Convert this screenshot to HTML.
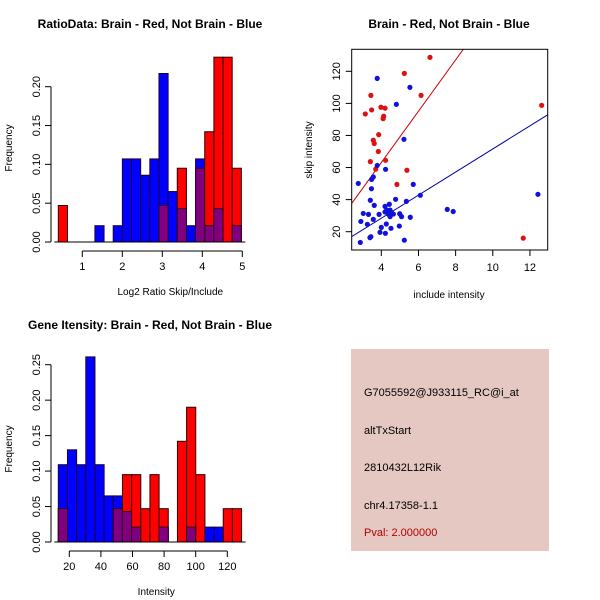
<!DOCTYPE html>
<html><head><meta charset="utf-8"><style>
body{margin:0;background:#fff}
svg{display:block;font-family:"Liberation Sans",sans-serif}
</style></head><body>
<svg id="c" width="600" height="600" xmlns="http://www.w3.org/2000/svg">
<g id="g1"></g>
<g id="g2"></g>
<g id="g3"></g>
<g id="g4">
<rect x="351" y="349" width="198" height="202" fill="#e6c8c2"/>
<text x="364" y="396" font-size="11">G7055592@J933115_RC@i_at</text>
<text x="364" y="434" font-size="11">altTxStart</text>
<text x="364" y="471" font-size="11">2810432L12Rik</text>
<text x="364" y="509" font-size="11">chr4.17358-1.1</text>
<text x="364" y="536" font-size="11" fill="#b00000">Pval: 2.000000</text>
</g>
</svg>
<script>
// ---- Histogram 1 data
const h1Start = 0.4, h1Width = 0.2288;
const h1Red  = [0.047,0,0,0,0,0,0,0,0,0,0,0.047,0,0.095,0,0.095,0.142,0.238,0.238,0.095];
const h1Blue = [0,0,0,0,0.021,0,0.021,0.107,0.107,0.086,0.107,0.217,0.065,0.043,0.021,0.107,0.021,0.043,0,0.021];
const h1YTicks = [0,0.05,0.10,0.15,0.20];
const h1YLabels = ["0.00","0.05","0.10","0.15","0.20"];
const h1XTicks = [1,2,3,4,5];
// ---- Histogram 2 data
const h3Start = 13.04, h3Width = 5.8;
const h3Red  = [0.047,0,0,0,0,0,0.047,0.095,0.095,0.047,0.095,0.047,0,0.142,0.190,0.095,0,0,0.047,0.047];
const h3Blue = [0.109,0.130,0.109,0.261,0.109,0.065,0.065,0.043,0.021,0,0,0.021,0,0,0.021,0,0.021,0.021,0,0];
const h3YTicks = [0,0.05,0.10,0.15,0.20,0.25];
const h3YLabels = ["0.00","0.05","0.10","0.15","0.20","0.25"];
const h3XTicks = [20,40,60,80,100,120];
// ---- Scatter data
const redX = [6.62,5.24,3.44,6.14,3.14,3.48,3.98,4.2,4.13,4.1,3.86,3.57,3.62,3.84,3.41,4.23,3.7,5.38,4.84,11.64,12.63];
const redY = [128.7,118.7,105,105,93.4,95.9,97.6,97,92,90.5,80.5,77,75,70,63.7,64.5,59,58.3,49.5,16,98.8];
const blueX = [3.78,5.54,4.81,5.22,3.78,4.23,3.57,3.48,2.76,3.47,5.72,6.1,3.41,3.62,4.77,5.35,4.43,4.2,4.29,4.47,4.56,4.38,4.65,4.2,4.47,3.03,3.31,3.88,4.99,5.09,3.57,2.9,3.25,4.27,4.0,4.97,4.52,3.93,4.22,3.44,3.39,2.87,5.24,5.56,7.55,7.87,12.43];
const blueY = [115.6,110,99.4,77.6,61.3,58.9,54.1,52.6,50.1,46.8,49.5,42.7,39.6,36.4,40.2,38.9,37.1,35.8,33.5,33.5,31.9,31,31,32.3,29.4,31.4,30.8,30.8,31.2,29.4,27.7,26.4,24.6,24.8,22.7,23.5,22.1,19.6,19,16.9,16.3,13.3,14.7,29,33.9,32.6,43.3];
const redFit = [-0.9,16];
const blueFit = [-0.4,7.2];
const sXTicks = [4,6,8,10,12];
const sYTicks = [20,40,60,80,100,120];

const NS="http://www.w3.org/2000/svg";
function mk(p,tag,a){const e=document.createElementNS(NS,tag);for(const k in a)e.setAttribute(k,a[k]);p.appendChild(e);return e;}
function txt(p,x,y,s,opt){const e=mk(p,'text',Object.assign({x:x,y:y,'font-size':11,'text-anchor':'middle'},opt||{}));e.textContent=s;return e;}

function hist(g,cfg){
  const sx=v=>cfg.x0+(v-cfg.xv0)*cfg.xs, sy=v=>cfg.y0-v*cfg.ys;
  const n=cfg.red.length;
  for(let i=0;i<n;i++){
    const a=cfg.start+i*cfg.width, xa=sx(a), w=cfg.width*cfg.xs;
    const b=cfg.blue[i], r=cfg.red[i], m=Math.min(b,r);
    if(b>0){const e=mk(g,'rect',{x:xa,y:sy(b),width:w,height:b*cfg.ys,fill:'#0000ff',stroke:'#200030','stroke-width':1});
      
      }
    if(r>0){const e=mk(g,'rect',{x:xa,y:sy(r),width:w,height:r*cfg.ys,fill:'#ff0000',stroke:'#300000','stroke-width':1});
      
      }
    if(m>0){const e=mk(g,'rect',{x:xa,y:sy(m),width:w,height:m*cfg.ys,fill:'#80007f',stroke:'#300020','stroke-width':1});
      
      }
  }
  const x1=cfg.x0+(cfg.start-cfg.xv0)*cfg.xs, x2=x1+n*cfg.width*cfg.xs;
  mk(g,'line',{x1:x1-4,x2:x2+4,y1:cfg.y0,y2:cfg.y0,stroke:'#000'});
  // y axis
  const yt=cfg.yticks;
  mk(g,'line',{x1:51,x2:51,y1:sy(yt[0]),y2:sy(yt[yt.length-1]),stroke:'#000'});
  yt.forEach((v,i)=>{mk(g,'line',{x1:45,x2:51,y1:sy(v),y2:sy(v),stroke:'#000'});
    const t=txt(g,40,sy(v),cfg.ylabels[i],{transform:`rotate(-90 40 ${sy(v)})`});
    
    });
  const xt=cfg.xticks, ay=cfg.y0+9;
  mk(g,'line',{x1:sx(xt[0]),x2:sx(xt[xt.length-1]),y1:ay,y2:ay,stroke:'#000'});
  xt.forEach(v=>{mk(g,'line',{x1:sx(v),x2:sx(v),y1:ay,y2:ay+6,stroke:'#000'});
    const t=txt(g,sx(v),ay+19,String(v));
    
    });
  const yl=txt(g,12,cfg.ymid,'Frequency',{transform:`rotate(-90 12 ${cfg.ymid})`,'font-size':10});
  
  
  const xl=txt(g,(sx(xt[0])+sx(xt[xt.length-1]))/2+8,cfg.y0+53,cfg.xlabel,{'font-size':10});
  
  
  const tt=txt(g,150,cfg.ty,cfg.title,{'font-weight':'bold','font-size':12});
  
  
}
hist(document.getElementById('g1'),{start:h1Start,width:h1Width,red:h1Red,blue:h1Blue,x0:82.3,xv0:1,xs:40,y0:242,ys:776.5,
  yticks:h1YTicks,ylabels:h1YLabels,xticks:h1XTicks,ymid:148,xlabel:'Log2 Ratio Skip/Include',title:'RatioData: Brain - Red, Not Brain - Blue',ty:28});
hist(document.getElementById('g3'),{start:h3Start,width:h3Width,red:h3Red,blue:h3Blue,x0:69.3,xv0:20,xs:1.58,y0:542,ys:709.2,
  yticks:h3YTicks,ylabels:h3YLabels,xticks:h3XTicks,ymid:449,xlabel:'Intensity',title:'Gene Itensity: Brain - Red, Not Brain - Blue',ty:329});

// scatter
(function(){
  const g=document.getElementById('g2');
  const L=351.7,R=547.7,T=49.3,B=250;
  const sx=v=>381.3+(v-4)*18.58, sy=v=>231.7-(v-20)*1.604;
  const clip=mk(g,'clipPath',{id:'sc'});mk(clip,'rect',{x:L,y:T,width:R-L,height:B-T});
  [[redFit,'#cc0000','red-fit-line'],[blueFit,'#0000aa','blue-fit-line']].forEach(([f,c,n])=>{
    const xa=(L-381.3)/18.58+4, xb=(R-381.3)/18.58+4;
    const l=mk(g,'line',{x1:sx(xa),y1:sy(f[0]+f[1]*xa),x2:sx(xb),y2:sy(f[0]+f[1]*xb),stroke:c,'stroke-width':1,'clip-path':'url(#sc)'});
    
    });
  redX.forEach((x,i)=>{const p=mk(g,'circle',{cx:sx(x),cy:sy(redY[i]),r:2.6,fill:'#dd1111'});
    
    });
  blueX.forEach((x,i)=>{const p=mk(g,'circle',{cx:sx(x),cy:sy(blueY[i]),r:2.6,fill:'#1111dd'});
    
    });
  mk(g,'rect',{x:L,y:T,width:R-L,height:B-T,fill:'none',stroke:'#000'});
  sXTicks.forEach(v=>{mk(g,'line',{x1:sx(v),x2:sx(v),y1:B,y2:B+6,stroke:'#000'});
    const t=txt(g,sx(v),B+21,String(v));
    
    });
  sYTicks.forEach(v=>{mk(g,'line',{x1:L-6,x2:L,y1:sy(v),y2:sy(v),stroke:'#000'});
    const t=txt(g,340,sy(v),String(v),{transform:`rotate(-90 340 ${sy(v)})`});
    
    });
  const xl=txt(g,449,298,'include intensity',{'font-size':10});
  
  
  const yl=txt(g,312,150,'skip intensity',{'font-size':10,transform:'rotate(-90 312 150)'});
  
  
  const tt=txt(g,449,28,'Brain - Red, Not Brain - Blue',{'font-weight':'bold','font-size':12});
  
  
})();
</script>
</body></html>
